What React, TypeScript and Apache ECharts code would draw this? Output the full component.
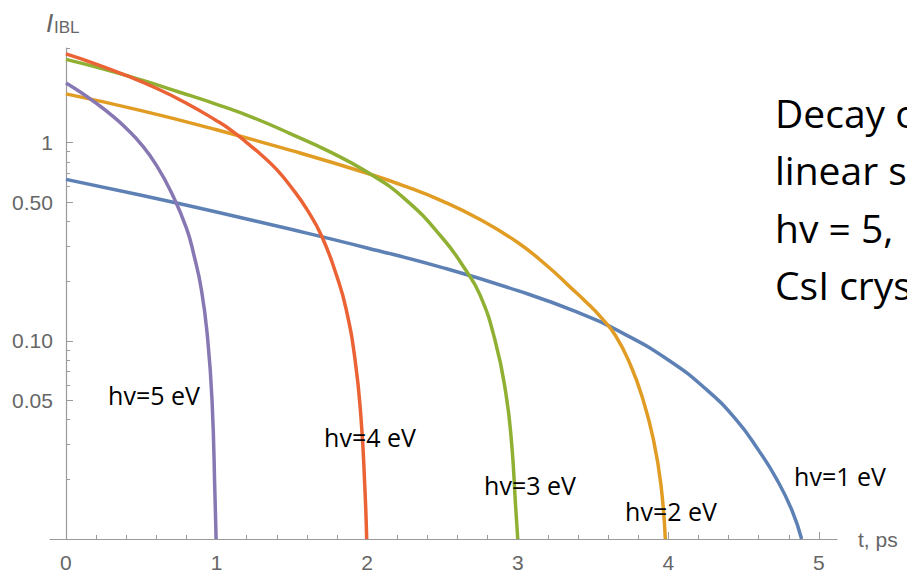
import React, { useEffect, useRef } from "react";
import * as echarts from "echarts";

// Intensity I_IBL versus time t (ps) for each photon energy
const hv1T = [0, 0.5, 1.0, 1.5, 2.0, 2.5, 3.0, 3.4, 3.7, 4.0, 4.25, 4.45, 4.6, 4.72, 4.82, 4.885];
const hv1I = [0.652, 0.542, 0.446, 0.364, 0.294, 0.234, 0.179, 0.139, 0.109, 0.08, 0.057, 0.04, 0.028, 0.02, 0.014, 0.01];

const hv2T = [0, 0.5, 1.0, 1.5, 2.0, 2.25, 2.5, 2.75, 3.0, 3.2, 3.35, 3.45, 3.55, 3.65, 3.75, 3.83, 3.9, 3.95, 3.98];
const hv2I = [1.76, 1.45, 1.16, 0.91, 0.7, 0.603, 0.507, 0.409, 0.313, 0.237, 0.186, 0.158, 0.132, 0.106, 0.075, 0.051, 0.032, 0.019, 0.01];

const hv3T = [0, 0.25, 0.5, 0.75, 1.0, 1.25, 1.5, 1.75, 2.0, 2.25, 2.5, 2.65, 2.75, 2.85, 2.92, 2.96, 2.985, 3.0];
const hv3I = [2.63, 2.35, 2.07, 1.8, 1.56, 1.33, 1.1, 0.9, 0.71, 0.52, 0.33, 0.23, 0.17, 0.1, 0.055, 0.03, 0.015, 0.01];

const hv4T = [0, 0.2, 0.4, 0.6, 0.8, 1.0, 1.1, 1.2, 1.3, 1.4, 1.5, 1.6, 1.7, 1.8, 1.86, 1.92, 1.96, 1.985, 1.997];
const hv4I = [2.8, 2.49, 2.18, 1.88, 1.58, 1.29, 1.15, 1.0, 0.863, 0.73, 0.59, 0.46, 0.335, 0.21, 0.145, 0.08, 0.04, 0.018, 0.01];

const hv5T = [0, 0.1, 0.2, 0.3, 0.4, 0.5, 0.6, 0.7, 0.8, 0.85, 0.9, 0.94, 0.97, 0.99, 0.997];
const hv5I = [2.0, 1.79, 1.58, 1.38, 1.18, 0.98, 0.77, 0.56, 0.37, 0.27, 0.18, 0.104, 0.05, 0.016, 0.01];

const curveNames = ["hv=1 eV", "hv=2 eV", "hv=3 eV", "hv=4 eV", "hv=5 eV"];
const curveColors = ["#5E81B5", "#E19C24", "#8FB032", "#EB6235", "#8778B3"];

const xTickValues = [0, 1, 2, 3, 4, 5];
const xMinorValues = [
  0.2, 0.4, 0.6, 0.8, 1.2, 1.4, 1.6, 1.8, 2.2, 2.4, 2.6, 2.8,
  3.2, 3.4, 3.6, 3.8, 4.2, 4.4, 4.6, 4.8,
];
const yTickValues = [0.05, 0.1, 0.5, 1];
const yTickLabels = ["0.05", "0.10", "0.50", "1"];
const yMinorValues = [0.02, 0.03, 0.04, 0.06, 0.07, 0.08, 0.09, 0.2, 0.3, 0.4, 0.6, 0.7, 0.8, 0.9, 2, 3];

const noteLines = ["Decay o", "linear s", "hv = 5,", "CsI crys"];

const AXIS_GRAY = "#9a9a9a";
const LABEL_GRAY = "#666666";
const AXIS_FONT = "'Liberation Sans', Arial, sans-serif";
const TEXT_FONT = "'Open Sans', 'Noto Sans', sans-serif";

const X_MIN = -0.106;
const X_MAX = 5.12;
const Y_MIN = 0.01;
const Y_MAX = 3;

const WIDTH = 907;
const HEIGHT = 575;
const GRID = { left: 50, right: 70, top: 48, bottom: 36 };

function pairs(t: number[], v: number[]) {
  return t.map((x, i) => [x, v[i]]);
}

function yLabel(v: number) {
  for (let i = 0; i < yTickValues.length; i++) {
    if (Math.abs(yTickValues[i] - v) < yTickValues[i] * 1e-6) return yTickLabels[i];
  }
  return "";
}

export default function App() {
  const ref = useRef<HTMLDivElement>(null);

  useEffect(() => {
    document.body.style.margin = "0";
    if (!ref.current) return;
    const chart = echarts.init(ref.current, undefined, { renderer: "svg" });

    const seriesData = [
      pairs(hv1T, hv1I),
      pairs(hv2T, hv2I),
      pairs(hv3T, hv3I),
      pairs(hv4T, hv4I),
      pairs(hv5T, hv5I),
    ];

    // the vertical axis stands at t = 0, inside the plotted t range
    const gridWidth = WIDTH - GRID.left - GRID.right;
    const yAxisOffset = -((0 - X_MIN) / (X_MAX - X_MIN)) * gridWidth;

    const labelPos: [number, number][] = [
      [840, 476],
      [671, 511],
      [530, 485],
      [370, 437],
      [154, 395],
    ];

    chart.setOption({
      animation: false,
      backgroundColor: "#ffffff",
      grid: {
        ...GRID,
        containLabel: false,
        outerBoundsMode: "none",
      },
      xAxis: [
        {
          type: "value",
          min: X_MIN,
          max: X_MAX,
          position: "bottom",
          axisLine: { onZero: false, lineStyle: { color: AXIS_GRAY, width: 1.2 } },
          axisTick: { customValues: xTickValues, inside: true, length: 7, lineStyle: { color: AXIS_GRAY } },
          axisLabel: {
            customValues: xTickValues,
            color: LABEL_GRAY,
            fontSize: 21,
            fontFamily: AXIS_FONT,
            margin: 13,
          },
          splitLine: { show: false },
          name: "t, ps",
          nameLocation: "end",
          nameGap: 21,
          nameTextStyle: { color: LABEL_GRAY, fontSize: 21, fontFamily: AXIS_FONT, verticalAlign: "middle" },
        },
        {
          type: "value",
          min: X_MIN,
          max: X_MAX,
          position: "bottom",
          axisLine: { show: false, onZero: false },
          axisTick: { customValues: xMinorValues, inside: true, length: 4, lineStyle: { color: AXIS_GRAY } },
          axisLabel: { show: false },
          splitLine: { show: false },
        },
      ],
      yAxis: [
        {
          type: "log",
          logBase: 10,
          min: Y_MIN,
          max: Y_MAX,
          position: "left",
          offset: yAxisOffset,
          axisLine: { onZero: false, lineStyle: { color: AXIS_GRAY, width: 1.2 } },
          axisTick: { customValues: yTickValues, inside: true, length: 7, lineStyle: { color: AXIS_GRAY } },
          axisLabel: {
            customValues: yTickValues,
            formatter: (v: number) => yLabel(v),
            color: LABEL_GRAY,
            fontSize: 21,
            fontFamily: AXIS_FONT,
            margin: 13,
          },
          splitLine: { show: false },
        },
        {
          type: "log",
          logBase: 10,
          min: Y_MIN,
          max: Y_MAX,
          position: "left",
          offset: yAxisOffset,
          axisLine: { show: false, onZero: false },
          axisTick: { customValues: yMinorValues, inside: true, length: 4, lineStyle: { color: AXIS_GRAY } },
          axisLabel: { show: false },
          splitLine: { show: false },
        },
      ],
      series: seriesData.map((d, i) => ({
        name: curveNames[i],
        type: "line",
        xAxisIndex: 0,
        yAxisIndex: 0,
        data: d,
        showSymbol: false,
        smooth: 0.5,
        clip: true,
        lineStyle: { color: curveColors[i], width: 3.5 },
        z: 3 + i,
      })),
      graphic: [
        {
          type: "text",
          left: 46,
          top: 10,
          style: {
            text: "I",
            fontSize: 26,
            fontStyle: "italic",
            fontFamily: AXIS_FONT,
            fill: LABEL_GRAY,
          },
        },
        {
          type: "text",
          left: 54,
          top: 19,
          style: {
            text: "IBL",
            fontSize: 17,
            fontFamily: AXIS_FONT,
            fill: LABEL_GRAY,
          },
        },
        ...curveNames.map((name, i) => ({
          type: "text",
          x: labelPos[i][0],
          y: labelPos[i][1],
          style: {
            text: name,
            fontSize: 25,
            fontFamily: TEXT_FONT,
            fill: "#000000",
            align: "center",
            verticalAlign: "middle",
          },
          z: 10,
        })),
        ...noteLines.map((line, i) => ({
          type: "text",
          x: 775,
          y: 112 + i * 57.5,
          style: {
            text: line,
            fontSize: 39,
            fontFamily: TEXT_FONT,
            fill: "#000000",
            align: "left",
            verticalAlign: "middle",
          },
          z: 10,
        })),
      ],
    });

    return () => chart.dispose();
  }, []);

  return (
    <div
      ref={ref}
      style={{ position: "fixed", left: 0, top: 0, width: WIDTH, height: HEIGHT, background: "#fff" }}
    />
  );
}
